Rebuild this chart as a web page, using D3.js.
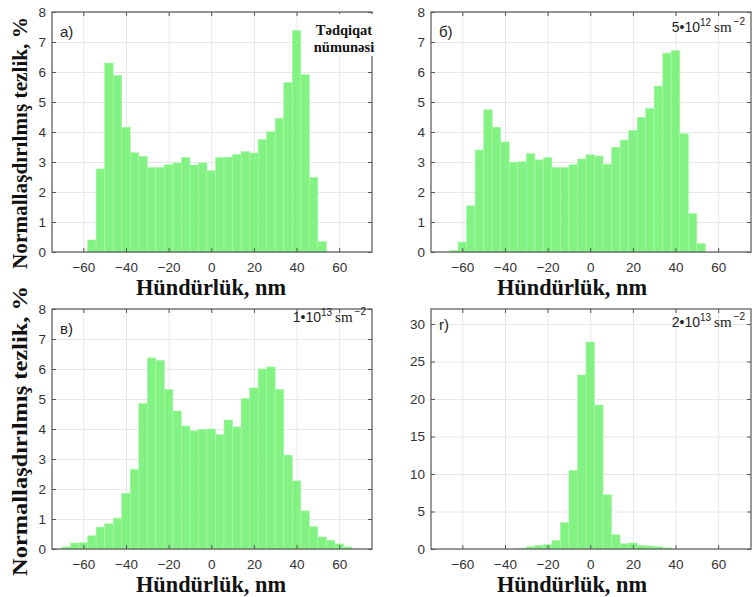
<!DOCTYPE html>
<meta charset="utf-8">
<head>
  <title>Hündürlük paylanmaları</title>
</head>

<style>
body { margin: 0; background: #fff; }
.grid line { stroke: #e8e8e8; stroke-width: 1; }
.grid .domain { display: none; }
.bar { fill: #82f382; stroke: #a9f7a9; stroke-width: 0.6; }
.axis .domain { display: none; }
.axis line { stroke: #555; }
.axis text { font-family: "Liberation Sans", Arial, sans-serif; font-size: 13.5px; fill: #333; }
.frame { fill: none; stroke: #555; stroke-width: 1.2; }
.lab { font-family: "Liberation Serif", "Times New Roman", serif; font-weight: bold; fill: #111; }
.letter { font-family: "Liberation Sans", Arial, sans-serif; font-size: 15px; fill: #222; }
.dose { font-family: "Liberation Sans", Arial, sans-serif; font-size: 14px; fill: #222; }
.unit { font-family: "Liberation Serif", "Times New Roman", serif; font-size: 15px; }
</style>

<body>
  <svg width="754" height="597"></svg>

  <script src="https://cdnjs.cloudflare.com/ajax/libs/d3/7.8.5/d3.min.js"></script>
  <script>

// histogram bins are 4 nm wide, each series starts at its own left edge
const binWidth = 4;
const xTicks = [-60, -40, -20, 0, 20, 40, 60];
const yTicksPct = [0, 1, 2, 3, 4, 5, 6, 7, 8];
const yTicksBig = [0, 5, 10, 15, 20, 25, 30];

const startA = -58;
const freqA = [0.40, 2.77, 6.30, 5.89, 4.16, 3.31, 3.19, 2.82, 2.82, 2.91, 2.97, 3.15, 2.90, 2.97,
  2.71, 3.15, 3.16, 3.25, 3.35, 3.30, 3.75, 4.01, 4.46, 5.65, 7.39, 5.91, 2.49, 0.35];

const startB = -66;
const freqB = [0.05, 0.33, 1.54, 3.40, 4.74, 4.16, 3.67, 2.99, 3.01, 3.28, 3.07, 3.15, 2.82, 2.82,
  2.91, 3.10, 3.24, 3.20, 2.93, 3.49, 3.73, 4.05, 4.49, 4.79, 5.53, 6.63, 6.72, 3.94, 1.28, 0.28];

const startC = -70;
const freqC = [0.07, 0.20, 0.21, 0.44, 0.73, 0.84, 1.03, 1.86, 2.66, 4.85, 6.37, 6.29, 5.32, 4.60,
  4.10, 3.94, 3.99, 4.00, 3.82, 4.30, 4.07, 5.02, 5.37, 6.00, 6.07, 5.32, 3.13, 2.27, 1.27, 0.75,
  0.40, 0.29, 0.17, 0.07];

const startD = -34;
const freqD = [0.10, 0.30, 0.50, 0.60, 1.15, 3.55, 10.5, 23.2, 27.6, 19.2, 7.24, 1.90, 0.70, 0.80,
  0.50, 0.40, 0.30, 0.15];

const letters = ["a)", "б)", "в)", "r)"];
const doses = [null, ["5•10", "12"], ["1•10", "13"], ["2•10", "13"]];
const xTitle = "Hündürlük, nm";
const yTitle = "Normallaşdırılmış tezlik, %";

const W = 320, H = 240;
const panels = [
  { start: startA, freq: freqA, yMax: 8,  yTicks: yTicksPct, left: 52,  top: 12,  yLab: 252, xLabX: 211, xLabY: 295 },
  { start: startB, freq: freqB, yMax: 8,  yTicks: yTicksPct, left: 431, top: 12,  yLab: 0,   xLabX: 572, xLabY: 295 },
  { start: startC, freq: freqC, yMax: 8,  yTicks: yTicksPct, left: 52,  top: 309, yLab: 290, xLabX: 211, xLabY: 592 },
  { start: startD, freq: freqD, yMax: 32, yTicks: yTicksBig, left: 431, top: 309, yLab: 0,   xLabX: 572, xLabY: 592 }
];

const svg = d3.select('svg');

panels.forEach(function(p, k) {
  const x = d3.scaleLinear().domain([-74.7, 75.4]).range([0, W]);
  const y = d3.scaleLinear().domain([0, p.yMax]).range([H, 0]);
  const g = svg.append('g').attr('transform', 'translate(' + p.left + ',' + p.top + ')');

  // grid
  g.append('g').attr('class', 'grid')
    .attr('transform', 'translate(0,' + H + ')')
    .call(d3.axisBottom(x).tickValues(xTicks).tickSize(-H).tickFormat(''));
  g.append('g').attr('class', 'grid')
    .call(d3.axisLeft(y).tickValues(p.yTicks).tickSize(-W).tickFormat(''));

  // bars
  g.selectAll('.bar')
    .data(p.freq)
    .enter()
    .append('rect')
    .attr('class', 'bar')
    .attr('x', (d, i) => x(p.start + i * binWidth))
    .attr('width', (d, i) => x(p.start + (i + 1) * binWidth) - x(p.start + i * binWidth))
    .attr('y', d => y(d))
    .attr('height', d => H - y(d));

  // axes with inward ticks
  g.append('g').attr('class', 'axis')
    .attr('transform', 'translate(0,' + H + ')')
    .call(d3.axisBottom(x).tickValues(xTicks).tickSize(-4).tickPadding(10));
  g.append('g').attr('class', 'axis')
    .call(d3.axisTop(x).tickValues(xTicks).tickSize(-4).tickFormat(''));
  g.append('g').attr('class', 'axis')
    .call(d3.axisLeft(y).tickValues(p.yTicks).tickSize(-4).tickPadding(6));
  g.append('g').attr('class', 'axis')
    .attr('transform', 'translate(' + W + ',0)')
    .call(d3.axisRight(y).tickValues(p.yTicks).tickSize(-4).tickFormat(''));

  g.append('rect').attr('class', 'frame').attr('width', W).attr('height', H);

  g.append('text').attr('class', 'letter')
    .attr('x', 8).attr('y', k == 3 ? 21 : 25)
    .text(letters[k]);

  if (doses[k]) {
    const t = g.append('text').attr('class', 'dose')
      .attr('x', W - 6).attr('y', k == 1 ? 20 : k == 2 ? 13 : 18)
      .attr('text-anchor', 'end');
    t.append('tspan').text(doses[k][0]);
    t.append('tspan').attr('font-size', '10px').attr('dy', -6).text(doses[k][1]);
    t.append('tspan').attr('class', 'unit').attr('dx', 3).attr('dy', 6).text('sm');
    t.append('tspan').attr('font-size', '10px').attr('dx', 2).attr('dy', -7).text('−2');
  } else {
    // "Tədqiqat nümunəsi" sits on a white patch over the top-right corner
    g.append('rect').attr('x', W - 68).attr('y', 2).attr('width', 80).attr('height', 42).attr('fill', '#fff');
    g.append('text').attr('class', 'lab').attr('font-size', '14.5px')
      .attr('text-anchor', 'middle').attr('x', W - 28).attr('y', 23).text('Tədqiqat');
    g.append('text').attr('class', 'lab').attr('font-size', '14.5px')
      .attr('text-anchor', 'middle').attr('x', W - 28).attr('y', 39.5).text('nümunəsi');
  }

  svg.append('text').attr('class', 'lab')
    .attr('font-size', '22.5px')
    .attr('text-anchor', 'middle')
    .attr('textLength', 150).attr('lengthAdjust', 'spacingAndGlyphs')
    .attr('x', p.xLabX).attr('y', p.xLabY)
    .text(xTitle);

  if (p.yLab) {
    svg.append('text').attr('class', 'lab')
      .attr('font-size', '21.5px')
      .attr('text-anchor', 'middle')
      .attr('textLength', p.yLab).attr('lengthAdjust', 'spacingAndGlyphs')
      .attr('transform', 'translate(27,' + (p.top + H / 2 + (k == 0 ? 11 : 2)) + ') rotate(-90)')
      .text(yTitle);
  }
});

  </script>
</body>
</html>
